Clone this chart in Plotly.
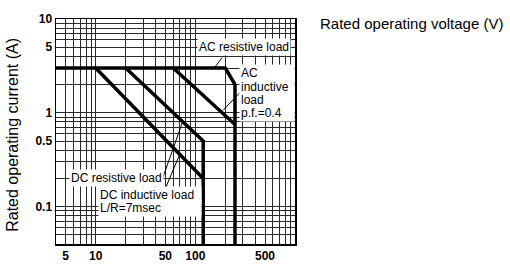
import numpy as np
import plotly.graph_objects as go

# ---- data ----
ac_res_v = [4, 200, 250, 250]
ac_res_i = [3, 3, 2, 0.04]
ac_ind_v = [60, 250]
ac_ind_i = [3, 0.75]
dc_res_v = [20, 120, 120]
dc_res_i = [3, 0.5, 0.04]
dc_ind_v = [10, 120]
dc_ind_i = [3, 0.2]

x_ticks = [5, 10, 50, 100, 500]
x_tick_text = ["5", "10", "50", "100", "500"]
y_ticks = [0.1, 0.5, 1, 5, 10]
y_tick_text = ["0.1", "0.5", "1", "5", "10"]

x_grid = [m * 10 ** e for e in range(0, 3) for m in range(1, 10)] + [1000]
x_grid = [v for v in x_grid if v >= 4]
y_grid = [m * 10.0 ** e for e in range(-2, 1) for m in range(1, 10)] + [10]
y_grid = [v for v in y_grid if v >= 0.04]

fig = go.Figure()
line_style = dict(color="black", width=3.5)
for name, xv, yv in [
    ("AC resistive load", ac_res_v, ac_res_i),
    ("AC inductive load", ac_ind_v, ac_ind_i),
    ("DC resistive load", dc_res_v, dc_res_i),
    ("DC inductive load", dc_ind_v, dc_ind_i),
]:
    fig.add_trace(go.Scatter(x=xv, y=yv, mode="lines", name=name,
                             line=line_style, showlegend=False,
                             hoverinfo="skip"))

W, H = 510, 275
# plot area in window pixels: left 56, right 295, top 13, bottom 252
L, R, T, B = 56, 295, 13, 252
def px(xp):
    return (xp - L) / (R - L)
def py(yp):
    return (B - yp) / (B - T)

font_lbl = dict(family="Liberation Sans, Arial", size=12, color="black")

# leader lines (paper coordinates)
leaders = [
    ((222, 54), (215, 64)),
    ((241, 90), (223, 110)),
    ((163, 181), (183, 121)),
    ((165, 194), (180, 156)),
]
shapes = []
for (x0, y0), (x1, y1) in leaders:
    shapes.append(dict(type="line", xref="paper", yref="paper",
                       x0=px(x0), y0=py(y0), x1=px(x1), y1=py(y1),
                       line=dict(color="black", width=1), layer="above"))

annotations = [
    dict(text="AC resistive load", x=px(244), y=py(43), xanchor="center"),
    dict(text="DC resistive load", x=px(116), y=py(182), xanchor="center"),
]
# multi-line labels, one line each, in a white column
for txt, yc in [("AC", 70), ("inductive", 85), ("load", 99), ("p.f.=0.4", 113)]:
    annotations.append(dict(text=txt, x=px(239), y=py(yc), xanchor="left",
                            align="left", width=52, height=14))
for txt, yc in [("DC inductive load", 200), ("L/R=7msec", 214)]:
    annotations.append(dict(text=txt, x=px(98), y=py(yc), xanchor="left",
                            align="left", width=100, height=14))
for a in annotations:
    a.update(xref="paper", yref="paper", showarrow=False, font=font_lbl,
             bgcolor="white", borderpad=1, yanchor="middle")

annotations.append(dict(text="Rated operating voltage (V)", xref="paper",
                        yref="paper", x=px(318), y=py(18), xanchor="left",
                        yanchor="middle", showarrow=False,
                        font=dict(family="Liberation Sans, Arial", size=15,
                                  color="black")))
annotations.append(dict(text="Rated operating current (A)", xref="paper",
                        yref="paper", x=px(13), y=py(136), xanchor="center",
                        yanchor="middle", textangle=-90, showarrow=False,
                        font=dict(family="Liberation Sans, Arial", size=16,
                                  color="black")))

grid_col = "#2a2a2a"
tick_font = dict(family="Liberation Sans, Arial", size=12, color="black",
                 weight="bold")

fig.update_layout(
    width=W, height=H,
    margin=dict(l=L, r=W - R, t=T, b=H - B),
    paper_bgcolor="white", plot_bgcolor="white",
    shapes=shapes, annotations=annotations,
    xaxis=dict(type="log", range=[np.log10(4), np.log10(1000)],
               tickmode="array", tickvals=x_ticks, ticktext=x_tick_text,
               showgrid=True, gridcolor=grid_col, gridwidth=1,
               minor=dict(tickmode="array", tickvals=x_grid, showgrid=True,
                          gridcolor=grid_col, gridwidth=1, ticks=""),
               showline=True, linecolor="black", linewidth=1.5, mirror=True,
               ticks="", tickfont=tick_font, zeroline=False),
    yaxis=dict(type="log", range=[np.log10(0.04), 1],
               tickmode="array", tickvals=y_ticks, ticktext=y_tick_text,
               showgrid=True, gridcolor=grid_col, gridwidth=1,
               minor=dict(tickmode="array", tickvals=y_grid, showgrid=True,
                          gridcolor=grid_col, gridwidth=1, ticks=""),
               showline=True, linecolor="black", linewidth=1.5, mirror=True,
               ticks="", tickfont=tick_font, zeroline=False),
)

# remove the browser's default 8px body margin so the figure fills the window
fig.write_html("out.html",
               config={"displayModeBar": False, "staticPlot": True},
               post_script="document.body.style.margin='0';"
                           "document.body.style.overflow='hidden';")
